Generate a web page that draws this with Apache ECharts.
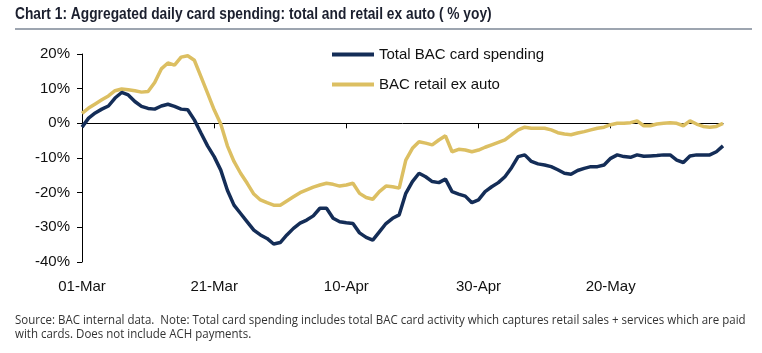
<!DOCTYPE html>
<html><head><meta charset="utf-8">
<script src="https://cdn.jsdelivr.net/npm/echarts@6/dist/echarts.min.js"></script>
<style>html,body{margin:0;padding:0;background:#fff}#c{width:762px;height:353px}</style>
</head><body><div id="c"></div>
<script>
const titleText = 'Chart 1: Aggregated daily card spending: total and retail ex auto ( % yoy)';
const sourceText = 'Source: BAC internal data.  Note: Total card spending includes total BAC card activity which captures retail sales + services which are paid\nwith cards. Does not include ACH payments.';
const seriesNames = ['Total BAC card spending', 'BAC retail ex auto'];
const tickLabels = ['01-Mar', '21-Mar', '10-Apr', '30-Apr', '20-May'];
const yTicks = [-40, -30, -20, -10, 0, 10, 20];

// daily categories 01-Mar .. 06-Jun
const months = ['Jan','Feb','Mar','Apr','May','Jun','Jul'];
const days = [];
(function(){
  const d = new Date(2020, 2, 1);
  for (let i = 0; i < 98; i++) {
    days.push(String(d.getDate()).padStart(2,'0') + '-' + months[d.getMonth()]);
    d.setDate(d.getDate() + 1);
  }
})();

const totalSpend = [-1.1,1.5,3.0,4.1,5.0,7.3,8.9,8.2,6.3,4.9,4.3,4.1,5.0,5.5,4.9,4.1,3.9,1.0,-2.8,-6.5,-9.6,
  -13.5,-19.3,-23.6,-26.0,-28.4,-30.8,-32.2,-33.2,-34.8,-34.4,-32.2,-30.3,-28.8,-27.9,-26.7,-24.5,-24.5,-27.4,-28.4,-28.7,
  -28.9,-31.6,-32.9,-33.7,-31.3,-28.9,-27.4,-26.4,-20.2,-16.8,-14.4,-15.4,-16.8,-17.1,-16.1,-19.7,-20.4,-21.0,-22.9,-22.1,
  -19.7,-18.3,-17.1,-15.4,-12.8,-9.6,-9.1,-11.0,-11.7,-12.0,-12.5,-13.4,-14.4,-14.7,-13.6,-13.0,-12.5,-12.5,-12.0,-10.1,
  -9.1,-9.6,-9.8,-9.1,-9.5,-9.4,-9.3,-9.1,-9.1,-10.6,-11.3,-9.4,-9.1,-9.1,-9.1,-8.2,-6.5];
const retailExAuto = [2.9,4.4,5.6,6.8,7.9,9.4,9.9,9.7,9.4,9.0,9.2,11.8,15.7,17.4,16.8,19.1,19.5,18.2,13.5,8.7,3.9,
  -0.2,-6.5,-11.0,-14.4,-17.3,-20.4,-22.1,-22.9,-23.6,-23.6,-22.4,-21.2,-20.0,-19.2,-18.4,-17.8,-17.3,-17.6,-18.1,-17.8,
  -17.3,-20.2,-21.4,-21.9,-19.7,-18.1,-18.3,-18.7,-10.6,-7.2,-5.3,-5.7,-6.2,-4.8,-3.6,-8.2,-7.5,-7.7,-8.2,-7.7,
  -6.9,-6.2,-5.5,-4.8,-3.3,-1.9,-1.1,-1.4,-1.4,-1.4,-1.9,-2.7,-3.1,-3.3,-2.8,-2.4,-1.9,-1.4,-1.1,-0.4,
  0,0,0.2,0.7,-0.7,-0.7,-0.2,0,0.2,0,-0.7,0.7,-0.2,-0.9,-1.1,-0.9,0];

const NAVY = '#142d57', GOLD = '#dcbf62';
const AX = 'Liberation Sans, Arial, sans-serif';
const showTick = i => tickLabels.indexOf(days[i]) >= 0;

const chart = echarts.init(document.getElementById('c'), null, {renderer: 'canvas'});
chart.setOption({
  animation: false,
  backgroundColor: '#fff',
  graphic: [
    {type: 'text', x: 15, y: 6, scaleX: 0.81, originX: 0,
     style: {text: titleText, x: 0, y: 0, verticalAlign: 'top',
             font: 'bold 17px "Liberation Sans", Arial, sans-serif', fill: '#1b1f2e'}},
    {type: 'line', shape: {x1: 15, y1: 29, x2: 752, y2: 29}, style: {stroke: '#7d8796', lineWidth: 1.5}},
    {type: 'text', x: 15, y: 313, scaleX: 0.92, originX: 0,
     style: {text: sourceText, x: 0, y: 0, verticalAlign: 'top', lineHeight: 14,
             font: '12.5px "Open Sans", sans-serif', fill: '#333'}}
  ],
  legend: [
    {data: [seriesNames[0]], left: 327, top: 42, orient: 'vertical', icon: 'rect', itemWidth: 42, itemHeight: 4,
     textStyle: {fontFamily: AX, fontSize: 15, color: '#111'}},
    {data: [seriesNames[1]], left: 327, top: 72, orient: 'vertical', icon: 'rect', itemWidth: 42, itemHeight: 4,
     textStyle: {fontFamily: AX, fontSize: 15, color: '#111'}}
  ],
  grid: {left: 82, right: 39, top: 54, bottom: 91, containLabel: false},
  xAxis: [
    {type: 'category', data: days, boundaryGap: false,
     axisLine: {onZero: true, lineStyle: {color: '#000', width: 1}},
     axisTick: {show: true, length: 5, interval: i => showTick(i), lineStyle: {color: '#000'}},
     axisLabel: {show: false}, splitLine: {show: false}},
    {type: 'category', data: days, boundaryGap: false, position: 'bottom',
     axisLine: {show: false}, axisTick: {show: false}, splitLine: {show: false},
     axisLabel: {show: true, interval: i => showTick(i), margin: 17, fontFamily: AX, fontSize: 15, color: '#111'}}
  ],
  yAxis: {type: 'value', min: -40, max: 20, interval: 10,
    axisLine: {show: true, lineStyle: {color: '#000', width: 1}},
    axisTick: {show: true, length: 5, lineStyle: {color: '#000'}},
    splitLine: {show: false},
    axisLabel: {margin: 12, fontFamily: AX, fontSize: 15, color: '#111', formatter: v => v + '%'}},
  series: [
    {name: seriesNames[0], type: 'line', data: totalSpend, xAxisIndex: 0, showSymbol: false, symbol: 'none',
     lineStyle: {color: NAVY, width: 3.5}, itemStyle: {color: NAVY}, z: 3},
    {name: seriesNames[1], type: 'line', data: retailExAuto, xAxisIndex: 0, showSymbol: false, symbol: 'none',
     lineStyle: {color: GOLD, width: 3.5}, itemStyle: {color: GOLD}, z: 2}
  ]
});
</script></body></html>
